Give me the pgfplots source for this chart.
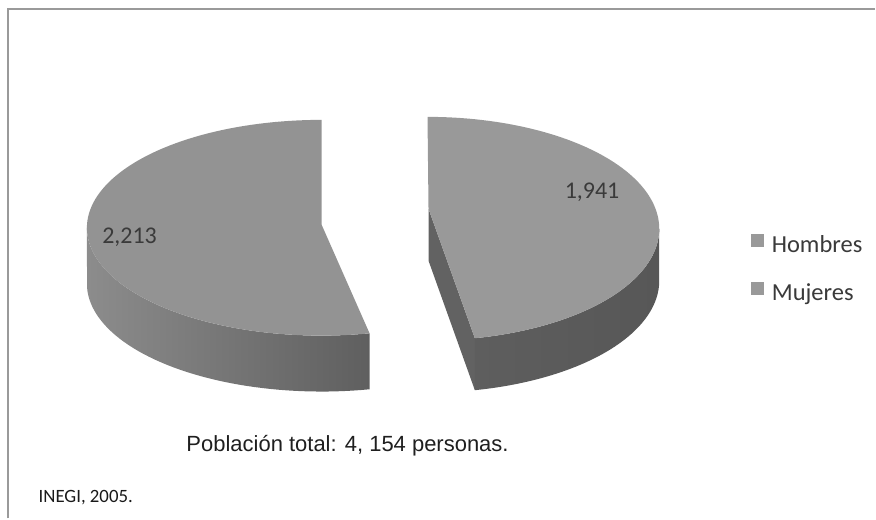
\documentclass[border=0pt]{standalone}
\usepackage{fontspec}
\setmainfont{Carlito}
\newfontfamily\arialfont{Liberation Sans}
\usepackage{pgfplots}
\pgfplotsset{compat=1.18}

\definecolor{topL}{HTML}{939393}
\definecolor{topR}{HTML}{999999}
\definecolor{wallLa}{HTML}{8C8C8C}
\definecolor{wallLb}{HTML}{5F5F5F}
\definecolor{wallRa}{HTML}{5E5E5E}
\definecolor{wallRb}{HTML}{575757}
\definecolor{cutR}{HTML}{626262}
\definecolor{legsq}{HTML}{999999}
\definecolor{frame}{HTML}{9A9A9A}
\definecolor{txt}{HTML}{3A3A3A}

% Poblacion 2005 (INEGI)
\def\hombres{1941}
\def\mujeres{2213}

\begin{document}
\begin{tikzpicture}
\pgfmathsetmacro\total{\hombres+\mujeres}
\pgfmathsetmacro\angH{(\hombres/\total)*360}
\pgfmathsetmacro\angM{(\mujeres/\total)*360}
\pgfmathsetmacro\tR{90-\angH}
\pgfmathsetmacro\tL{90+\angM}
\pgfmathsetmacro\tipx{428+232*cos(\tR)}
\pgfmathsetmacro\tipy{229-112*sin(\tR)}
\pgfmathsetmacro\tipyD{\tipy+52}
\begin{axis}[
    x=1bp, y=1bp,
    xmin=0, xmax=876, ymin=0, ymax=519,
    y dir=reverse,
    hide axis, clip=false,
    legend cell align=left,
    legend image code/.code={\fill[#1, draw=none] (0bp,0bp) rectangle (13bp,13bp);},
    legend style={at={(axis cs:752,234.2)}, anchor=north west,
        draw=none, fill=none, inner sep=0pt, row sep=24.3bp,
        font=\fontsize{24.5bp}{29bp}\selectfont, text=txt,
        nodes={inner sep=0pt, text height=16.5bp, text depth=5bp},
        /tikz/every odd column/.append style={column sep=7.5bp}},
  ]
  % page area and frame
  \path (axis cs:0,0) rectangle (axis cs:876,519);
  \draw[frame, line width=2bp] (axis cs:8,519) -- (axis cs:8,9) -- (axis cs:876,9);

  % Mujeres (left slice): side wall, then top
  \addplot[forget plot, draw=none, left color=wallLa, right color=wallLb,
    variable=\s, samples at={0,0.02,...,0.98,1,2,2.02,...,3}]
    ({322+235*cos(\s<=1.5 ? 180+(\tL-180)*\s : 180+(\tL-180)*(3-\s))},
     {228-108*sin(\s<=1.5 ? 180+(\tL-180)*\s : 180+(\tL-180)*(3-\s)) + (\s<=1.5 ? 0 : 56)});
  \addplot[forget plot, draw=none, fill=topL,
    variable=\s, samples at={0,0.01,...,0.99,1,2}]
    ({\s<=1.5 ? 322+235*cos(90+\angM*\s) : 322},
     {\s<=1.5 ? 228-108*sin(90+\angM*\s) : 225});

  % Hombres (right slice): cut face, side wall, top
  \addplot[forget plot, draw=none, fill=cutR]
    coordinates {(429,209) (\tipx,\tipy) (\tipx,\tipyD) (429,261)};
  \addplot[forget plot, draw=none, left color=wallRa, right color=wallRb,
    variable=\s, samples at={0,0.02,...,0.98,1,2,2.02,...,3}]
    ({428+232*cos(\s<=1.5 ? \tR*\s : \tR*(3-\s))},
     {229-112*sin(\s<=1.5 ? \tR*\s : \tR*(3-\s)) + (\s<=1.5 ? 0 : 52)});
  \addplot[forget plot, draw=none, fill=topR,
    variable=\s, samples at={0,0.01,...,0.99,1,2}]
    ({\s<=1.5 ? 428+232*cos(90-\angH*\s) : 429},
     {\s<=1.5 ? 229-112*sin(90-\angH*\s) : 209});

  % value labels
  \node[anchor=base west, inner sep=0pt, text=txt, font=\fontsize{24bp}{28bp}\selectfont]
    at (axis cs:102.2,244) {\pgfmathprintnumber[assume math mode=true, 1000 sep={,}]{\mujeres}};
  \node[anchor=base west, inner sep=0pt, text=txt, font=\fontsize{24bp}{28bp}\selectfont]
    at (axis cs:565.2,198.3) {\pgfmathprintnumber[assume math mode=true, 1000 sep={,}]{\hombres}};

  \node[anchor=base west, inner sep=0pt, text=black!88, font=\arialfont\fontsize{22bp}{26bp}\selectfont]
    at (axis cs:186.5,451.7) {Población total: 4, 154 personas.};
  \node[anchor=base west, inner sep=0pt, text=black!90, font=\fontsize{18.8bp}{22bp}\selectfont]
    at (axis cs:38.5,502.7) {INEGI, 2005.};

  \addlegendimage{fill=legsq}
  \addlegendentry{Hombres}
  \addlegendimage{fill=legsq}
  \addlegendentry{Mujeres}
\end{axis}
\end{tikzpicture}
\end{document}
